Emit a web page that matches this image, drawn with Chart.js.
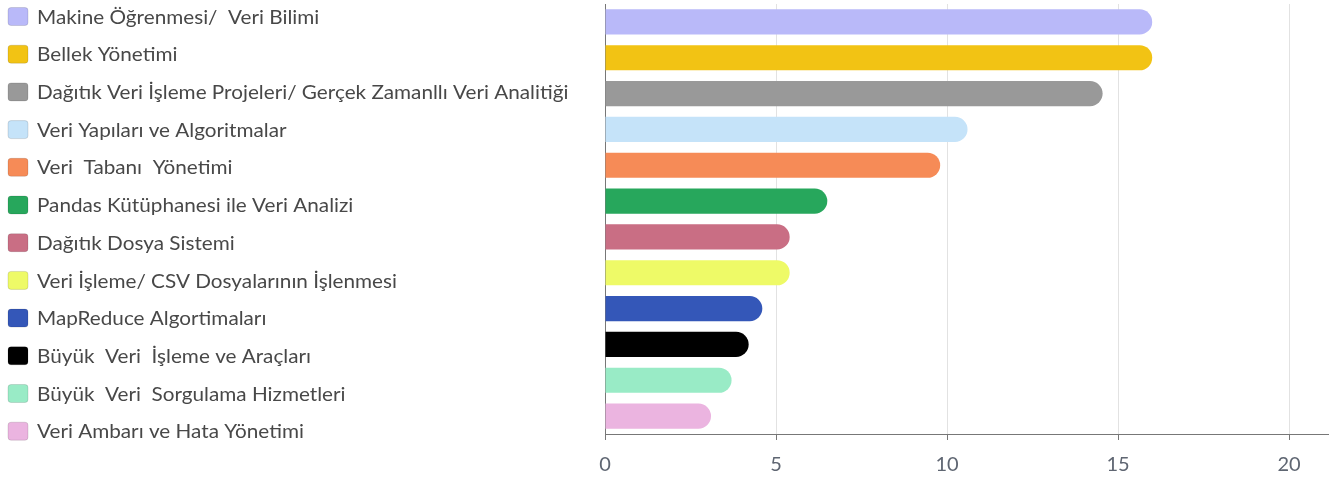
<!DOCTYPE html>
<html>
<head>
<meta charset="utf-8">
<script src="https://cdn.jsdelivr.net/npm/chart.js@4.4.1/dist/chart.umd.min.js"></script>
<style>
  html, body { margin: 0; padding: 0; background: #fff; }
  #wrap { width: 1341px; height: 477px; position: relative; }
</style>
</head>
<body>
<div id="wrap"><canvas id="myChart"></canvas></div>
<script>
const categories = [
    "Makine Öğrenmesi/  Veri Bilimi",
    "Bellek Yönetimi",
    "Dağıtık Veri İşleme Projeleri/ Gerçek Zamanllı Veri Analitiği",
    "Veri Yapıları ve Algoritmalar",
    "Veri  Tabanı  Yönetimi",
    "Pandas Kütüphanesi ile Veri Analizi",
    "Dağıtık Dosya Sistemi",
    "Veri İşleme/ CSV Dosyalarının İşlenmesi",
    "MapReduce Algortimaları",
    "Büyük  Veri  İşleme ve Araçları",
    "Büyük  Veri  Sorgulama Hizmetleri",
    "Veri Ambarı ve Hata Yönetimi"
];
const values = [16, 16, 14.55, 10.6, 9.8, 6.5, 5.4, 5.4, 4.6, 4.2, 3.7, 3.1];
const colors = [
    "#b9b9f9", "#f2c314", "#999999", "#c5e3f9", "#f68b57", "#27a75c",
    "#c96e84", "#eefa67", "#3457b8", "#000000", "#99ebc6", "#ebb4e0"
];
const tickValues = [0, 5, 10, 15, 20];

// legend drawn on the left, one row per category
const sideLegend = {
    id: "sideLegend",
    afterDraw(chart) {
        const ctx = chart.ctx;
        ctx.save();
        ctx.textBaseline = "middle";
        categories.forEach((label, i) => {
            const cy = 16.5 + i * 37.7;
            ctx.beginPath();
            ctx.roundRect(8, cy - 9, 20, 18, 3);
            ctx.fillStyle = colors[i];
            ctx.fill();
            ctx.strokeStyle = "rgba(0,0,0,0.12)";
            ctx.lineWidth = 1;
            ctx.stroke();

            ctx.save();
            ctx.translate(37, cy + 1);
            ctx.scale(1.09, 1);
            ctx.font = "19px Lato";
            ctx.fillStyle = "#484848";
            ctx.fillText(label, 0, 0);
            ctx.restore();
        });
        ctx.restore();
    }
};

const info = {
    labels: categories,
    datasets: [
        {
            data: values,
            backgroundColor: colors,
            borderRadius: 13,
            borderSkipped: "start",
            barPercentage: 0.9,
            categoryPercentage: 0.78
        }
    ]
};

const options = {
    indexAxis: "y",
    responsive: true,
    maintainAspectRatio: false,
    animation: false,
    layout: {
        padding: { left: 605, right: 13, top: 4, bottom: -13 }
    },
    scales: {
        x: {
            min: 0,
            max: 21.14,
            afterBuildTicks: (scale) => {
                scale.ticks = tickValues.map((v) => ({ value: v }));
            },
            ticks: {
                color: "#5f6672",
                padding: 13,
                font: { family: "Lato", size: 20 }
            },
            grid: {
                color: "#e2e2e2",
                tickColor: "#777",
                tickLength: 6
            },
            border: { color: "#777" }
        },
        y: {
            ticks: { display: false },
            grid: { display: false, drawTicks: false },
            border: { display: true, color: "#777" }
        }
    },
    plugins: {
        legend: { display: false },
        tooltip: { enabled: false }
    }
};

const config = {
    type: "bar",
    data: info,
    options,
    plugins: [sideLegend]
};

const myChart = new Chart(document.getElementById("myChart"), config);
</script>
</body>
</html>
